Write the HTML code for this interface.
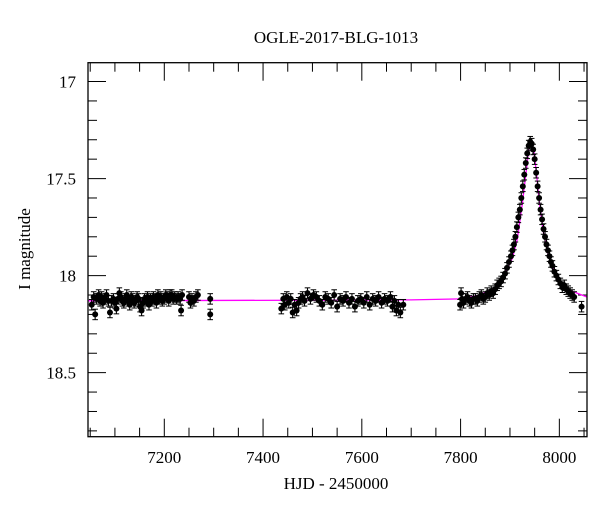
<!DOCTYPE html>
<html><head><meta charset="utf-8"><style>
html,body{margin:0;padding:0;background:#fff;}
svg{display:block;font-family:"Liberation Serif","DejaVu Serif",serif;}
</style></head><body>
<svg id="chart" width="600" height="512" viewBox="0 0 600 512">
<text x="336" y="43" font-size="17" text-anchor="middle">OGLE-2017-BLG-1013</text>
<g id="axes"></g>
<g id="model"></g>
<g id="points"></g>
<rect x="88" y="62.7" width="499" height="374" fill="none" stroke="#000" stroke-width="1.3"/>
<text x="336" y="489" font-size="17" text-anchor="middle">HJD - 2450000</text>
<text transform="translate(30,249) rotate(-90)" font-size="17" text-anchor="middle">I magnitude</text>
</svg>
<script>
const xTicks=[7200,7400,7600,7800,8000];
const yTicks=[17,17.5,18,18.5];
const yTickLabels=["17","17.5","18","18.5"];
const modelT=[7046,7700,7800,7840,7870,7890,7905,7915,7925,7932,7938,7943,7948,7954,7960,7968,7978,7990,8005,8025,8056];
const modelM=[18.13,18.125,18.12,18.10,18.06,17.99,17.91,17.81,17.63,17.48,17.35,17.31,17.35,17.48,17.63,17.78,17.90,17.98,18.04,18.08,18.11];
const obsT=[7053,7057,7060,7063,7067,7070,7073,7076,7080,7083,7087,7090,7093,7097,7100,7103,7106,7109,7112,7115,7118,7121,7124,7127,7130,7133,7136,7139,7142,7145,7148,7151,7154,7157,7160,7163,7166,7169,7172,7175,7178,7181,7184,7187,7190,7193,7196,7200,7203,7206,7209,7212,7215,7218,7221,7225,7228,7232,7234,7236,7250,7253,7256,7260,7264,7268,7293,7293,
7437,7441,7444,7448,7452,7456,7460,7464,7468,7472,7476,7480,7484,7490,7496,7502,7508,7514,7520,7526,7532,7538,7544,7550,7556,7562,7568,7574,7580,7586,7592,7598,7604,7610,7616,7622,7628,7634,7640,7646,7652,7658,7662,7666,7670,7674,7678,7684,
7799,7801,7803,7806,7810,7814,7818,7822,7826,7830,7834,7838,7842,7846,7850,7854,7858,7862,7866,7870,7874,7878,7882,7886,7890,7894,7898,7902,7905,7908,7911,7914,7917,7920,7923,7926,7929,7932,7935,7938,7941,7944,7947,7950,7953,7956,7959,7962,7965,7968,7971,7974,7977,7980,7983,7986,7990,7994,7998,8002,8006,8010,8014,8018,8022,8026,8030,8045];
const obsM=[18.15,18.11,18.20,18.12,18.10,18.13,18.11,18.14,18.12,18.10,18.13,18.19,18.13,18.12,18.14,18.17,18.12,18.09,18.11,18.13,18.14,18.12,18.10,18.13,18.15,18.11,18.12,18.14,18.13,18.11,18.12,18.16,18.18,18.14,18.12,18.13,18.11,18.15,18.12,18.13,18.11,18.12,18.14,18.10,18.12,18.11,18.13,18.12,18.10,18.11,18.13,18.10,18.10,18.12,18.11,18.12,18.11,18.12,18.18,18.10,18.11,18.14,18.12,18.13,18.11,18.10,18.12,18.20,
18.17,18.12,18.15,18.11,18.14,18.12,18.19,18.15,18.18,18.14,18.12,18.11,18.13,18.09,18.12,18.10,18.11,18.13,18.15,18.11,18.12,18.14,18.10,18.16,18.12,18.13,18.11,18.14,18.12,18.16,18.13,18.12,18.14,18.11,18.15,18.12,18.13,18.11,18.14,18.12,18.13,18.11,18.16,18.13,18.18,18.15,18.19,18.15,
18.15,18.09,18.12,18.14,18.12,18.11,18.13,18.14,18.12,18.12,18.13,18.11,18.10,18.12,18.11,18.09,18.10,18.08,18.09,18.07,18.05,18.04,18.03,18.01,17.99,17.96,17.93,17.90,17.87,17.84,17.80,17.75,17.70,17.66,17.60,17.54,17.48,17.42,17.37,17.33,17.31,17.32,17.35,17.40,17.47,17.54,17.60,17.66,17.71,17.76,17.80,17.84,17.87,17.90,17.93,17.95,17.98,18.00,18.02,18.04,18.06,18.05,18.07,18.08,18.09,18.10,18.11,18.16];
const X0=88,X1=587,T0=7045.5,T1=8056,Y0=62.7,Y1=436.7,M0=16.903,M1=18.83;
function xs(t){return X0+(t-T0)/(T1-T0)*(X1-X0);}
function ys(m){return Y0+(m-M0)/(M1-M0)*(Y1-Y0);}
const NS="http://www.w3.org/2000/svg";
function mk(tag,attrs,parent){const e=document.createElementNS(NS,tag);for(const k in attrs)e.setAttribute(k,attrs[k]);parent.appendChild(e);return e;}
const axes=document.getElementById('axes');
for(let t=7050;t<=8050;t+=50){const major=t%200===0;const x=xs(t);const L=major?18:9;
 let a=mk('line',{x1:x,x2:x,y1:Y1,y2:Y1-L,stroke:'#000','stroke-width':1},axes);
 
 
 let b=mk('line',{x1:x,x2:x,y1:Y0,y2:Y0+L,stroke:'#000','stroke-width':1},axes);
 
 }
xTicks.forEach(t=>{const tx=mk('text',{x:xs(t),y:463,'font-size':17,'text-anchor':'middle'},axes);tx.textContent=String(t);
 
 });
for(let i=0;i<=18;i++){const m=17+i*0.1;if(m>M1)break;const major=i%5===0;const y=ys(m);const L=major?18:9;
 let a=mk('line',{x1:X0,x2:X0+L,y1:y,y2:y,stroke:'#000','stroke-width':1},axes);
 
 
 let b=mk('line',{x1:X1,x2:X1-L,y1:y,y2:y,stroke:'#000','stroke-width':1},axes);
 
 }
yTicks.forEach((m,i)=>{const tx=mk('text',{x:76,y:ys(m)+6,'font-size':17,'text-anchor':'end'},axes);tx.textContent=yTickLabels[i];
 
 });
const mg=document.getElementById('model');
const pl=mk('polyline',{points:modelT.map((t,i)=>xs(t).toFixed(1)+','+ys(modelM[i]).toFixed(1)).join(' '),fill:'none',stroke:'#ff00ff','stroke-width':1.3},mg);


const pg=document.getElementById('points');
obsT.forEach((t,i)=>{const x=xs(t),y=ys(obsM[i]);const e=0.027;
 const g=mk('g',{},pg);
 
 
 mk('line',{x1:x,x2:x,y1:ys(obsM[i]-e),y2:ys(obsM[i]+e),stroke:'#000','stroke-width':1.1},g);
 mk('line',{x1:x-2.8,x2:x+2.8,y1:ys(obsM[i]-e),y2:ys(obsM[i]-e),stroke:'#000','stroke-width':1},g);
 mk('line',{x1:x-2.8,x2:x+2.8,y1:ys(obsM[i]+e),y2:ys(obsM[i]+e),stroke:'#000','stroke-width':1},g);
 mk('circle',{cx:x,cy:y,r:3,fill:'#000'},g);});
</script>
</body></html>
